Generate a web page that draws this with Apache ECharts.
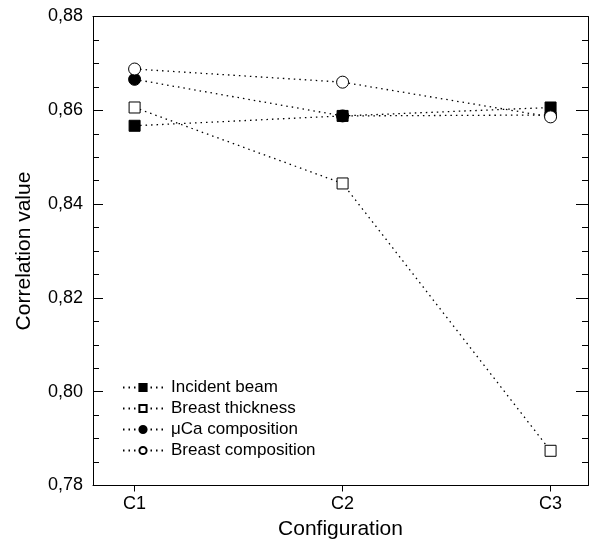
<!DOCTYPE html>
<html>
<head>
<meta charset="utf-8">
<script src="https://cdn.jsdelivr.net/npm/echarts@6/dist/echarts.min.js"></script>
<style>
  html, body { margin: 0; padding: 0; background: #fff; }
  #main { width: 589px; height: 550px; }
</style>
</head>
<body>
<div id="main"></div>
<script>
// configurations on the x axis (C1, C2, C3)
const configs = [1, 2, 3];
const configNames = ['C1', 'C2', 'C3'];

// correlation values
const incidentBeam = [0.8567, 0.8588, 0.8606];
const breastThickness = [0.8606, 0.8444, 0.7874];
const mucaComposition = [0.8666, 0.8588, 0.8590];
const breastComposition = [0.8688, 0.8660, 0.8586];

const font = 'Liberation Sans, Arial, sans-serif';

function pairs(vals) {
  return configs.map((c, i) => [c, vals[i]]);
}

function makeSeries(name, vals, symbol, filled, size) {
  return {
    name: name,
    type: 'line',
    data: pairs(vals),
    symbol: symbol,
    symbolSize: size,
    showAllSymbol: true,
    lineStyle: { color: '#000', width: 1.3, type: [1.5, 4] },
    itemStyle: { color: filled ? '#000' : '#fff', borderColor: '#000', borderWidth: 1 },
    emphasis: { disabled: true }
  };
}

const chart = echarts.init(document.getElementById('main'));

const option = {
  animation: false,
  backgroundColor: '#fff',
  grid: { left: 93, right: 1, top: 16.5, bottom: 64.5 },
  legend: {
    orient: 'vertical',
    left: 117,
    top: 374,
    itemWidth: 40,
    itemHeight: 9,
    itemGap: 4,
    textStyle: { fontFamily: font, fontSize: 17, color: '#000', padding: [0, 0, 0, 3] },
    data: ['Incident beam', 'Breast thickness', 'μCa composition', 'Breast composition']
  },
  xAxis: [
    {
      type: 'value',
      min: 0.8,
      max: 3.18,
      name: 'Configuration',
      nameLocation: 'middle',
      nameGap: 27,
      nameTextStyle: { fontFamily: font, fontSize: 21, color: '#000' },
      axisLine: { lineStyle: { color: '#000', width: 1 } },
      axisTick: { show: true, length: 6, customValues: configs, lineStyle: { color: '#000' } },
      axisLabel: {
        customValues: configs,
        formatter: v => configNames[Math.round(v) - 1],
        fontFamily: font, fontSize: 18, color: '#000', margin: 10
      },
      splitLine: { show: false }
    },
    {
      type: 'value',
      position: 'top',
      min: 0.8,
      max: 3.18,
      axisLine: { show: true, lineStyle: { color: '#000', width: 1 } },
      axisTick: { show: false },
      axisLabel: { show: false },
      splitLine: { show: false }
    }
  ],
  yAxis: [
    {
      type: 'value',
      min: 0.78,
      max: 0.88,
      interval: 0.02,
      name: 'Correlation value',
      nameLocation: 'middle',
      nameGap: 58,
      nameTextStyle: { fontFamily: font, fontSize: 21, color: '#000' },
      axisLine: { show: true, lineStyle: { color: '#000', width: 1 } },
      axisTick: { show: true, inside: true, length: 10, lineStyle: { color: '#000' } },
      minorTick: { show: true, splitNumber: 4, length: 6, lineStyle: { color: '#000' } },
      axisLabel: {
        formatter: v => v.toFixed(2).replace('.', ','),
        fontFamily: font, fontSize: 18, color: '#000', margin: 10
      },
      splitLine: { show: false }
    },
    {
      type: 'value',
      position: 'right',
      min: 0.78,
      max: 0.88,
      interval: 0.02,
      axisLine: { show: true, lineStyle: { color: '#000', width: 1 } },
      axisTick: { show: true, inside: true, length: 12, lineStyle: { color: '#000' } },
      minorTick: { show: true, splitNumber: 4, length: 6, lineStyle: { color: '#000' } },
      axisLabel: { show: false },
      splitLine: { show: false }
    }
  ],
  series: [
    makeSeries('Incident beam', incidentBeam, 'rect', true, 11),
    makeSeries('Breast thickness', breastThickness, 'rect', false, 11),
    makeSeries('μCa composition', mucaComposition, 'circle', true, 12),
    makeSeries('Breast composition', breastComposition, 'circle', false, 12)
  ]
};

chart.setOption(option);
</script>
</body>
</html>
